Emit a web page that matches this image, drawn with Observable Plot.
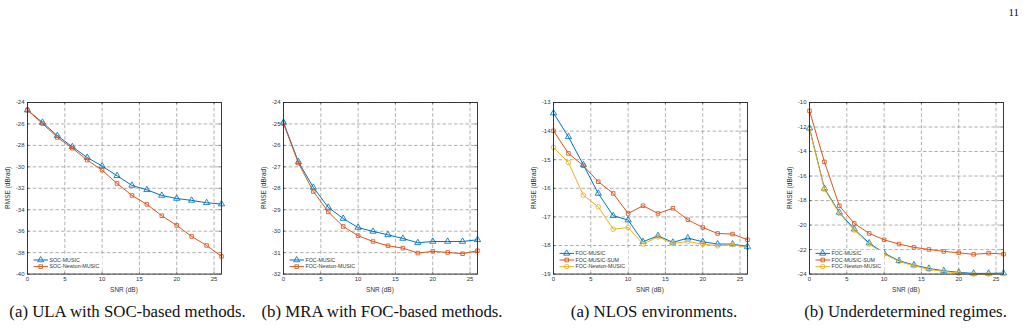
<!DOCTYPE html>
<html>
<head>
<meta charset="utf-8">
<script src="https://cdn.jsdelivr.net/npm/d3@7"></script>
<script src="https://cdn.jsdelivr.net/npm/@observablehq/plot@0.6"></script>
<style>
  html, body { margin: 0; padding: 0; background: #fff; }
  body { width: 1028px; height: 328px; position: relative; overflow: hidden; }
  .panel { position: absolute; }
  #overlay { position: absolute; left: 0; top: 0; pointer-events: none; }
</style>
</head>
<body>
<svg id="overlay" width="1028" height="328"></svg>
<script>
// SNR sweep shared by every panel (dB)
const snr = [0, 2, 4, 6, 8, 10, 12, 14, 16, 18, 20, 22, 24, 26];
const xTicks = [0, 5, 10, 15, 20, 25];

// (a) ULA, second-order cumulant methods
const ulaSocMusic =       [-24.71, -25.86, -27.10, -28.13, -29.13, -29.93, -30.83, -31.73, -32.14, -32.67, -32.95, -33.13, -33.35, -33.47];
const ulaSocNewtonMusic = [-24.71, -25.96, -27.26, -28.26, -29.37, -30.31, -31.55, -32.67, -33.50, -34.56, -35.46, -36.49, -37.33, -38.35];
const ulaTicks = [-24, -26, -28, -30, -32, -34, -36, -38, -40];

// (b) MRA, fourth-order cumulant methods
const mraFocMusic =       [-24.93, -26.77, -27.96, -28.89, -29.41, -29.83, -30.01, -30.17, -30.34, -30.54, -30.48, -30.48, -30.48, -30.40];
const mraFocNewtonMusic = [-24.98, -26.83, -28.15, -29.10, -29.78, -30.21, -30.48, -30.68, -30.79, -31.02, -30.94, -30.99, -31.05, -30.91];
const mraTicks = [-24, -25, -26, -27, -28, -29, -30, -31, -32];

// (a) NLOS environments
const nlosFocMusic =       [-13.37, -14.20, -15.18, -16.18, -16.96, -17.11, -17.87, -17.66, -17.89, -17.74, -17.87, -17.95, -17.95, -18.04];
const nlosFocMusicSum =    [-13.99, -14.78, -15.21, -15.77, -16.18, -16.88, -16.61, -16.88, -16.70, -17.10, -17.37, -17.58, -17.60, -17.80];
const nlosFocNewtonMusic = [-14.57, -15.10, -16.24, -16.65, -17.43, -17.37, -17.95, -17.70, -17.93, -17.86, -17.95, -18.01, -17.97, -18.07];
const nlosTicks = [-13, -14, -15, -16, -17, -18, -19];

// (b) Underdetermined regimes
const udFocMusic =       [-12.09, -17.01, -18.97, -20.33, -21.47, -22.29, -22.91, -23.26, -23.54, -23.73, -23.86, -23.94, -23.94, -23.92];
const udFocMusicSum =    [-10.68, -14.84, -18.43, -19.87, -20.68, -21.20, -21.55, -21.82, -21.99, -22.15, -22.26, -22.39, -22.29, -22.37];
const udFocNewtonMusic = [-12.17, -17.09, -19.05, -20.41, -21.55, -22.37, -22.97, -23.32, -23.62, -23.78, -23.92, -24.00, -24.00, -23.97];
const udTicks = [-10, -12, -14, -16, -18, -20, -22, -24];

const captions = [
  "(a) ULA with SOC-based methods.",
  "(b) MRA with FOC-based methods.",
  "(a) NLOS environments.",
  "(b) Underdetermined regimes."
];

const BLUE = "#0072BD", RED = "#D95319", YELLOW = "#EDB120";
const SANS = "'Liberation Sans', Arial, Helvetica, sans-serif";
const SERIF = "'Liberation Serif', 'Times New Roman', serif";

const panels = [
  { left: 26.7, top: 101.7, yTicks: ulaTicks, caption: captions[0], capX: 127.5,
    series: [
      { name: "SOC-MUSIC", values: ulaSocMusic, color: BLUE, symbol: "triangle" },
      { name: "SOC-Newton-MUSIC", values: ulaSocNewtonMusic, color: RED, symbol: "square" }
    ] },
  { left: 283.3, top: 101.7, yTicks: mraTicks, caption: captions[1], capX: 382,
    series: [
      { name: "FOC-MUSIC", values: mraFocMusic, color: BLUE, symbol: "triangle" },
      { name: "FOC-Newton-MUSIC", values: mraFocNewtonMusic, color: RED, symbol: "square" }
    ] },
  { left: 553.3, top: 101.7, yTicks: nlosTicks, caption: captions[2], capX: 654,
    series: [
      { name: "FOC-MUSIC", values: nlosFocMusic, color: BLUE, symbol: "triangle" },
      { name: "FOC-MUSIC-SUM", values: nlosFocMusicSum, color: RED, symbol: "square" },
      { name: "FOC-Newton-MUSIC", values: nlosFocNewtonMusic, color: YELLOW, symbol: "circle" }
    ] },
  { left: 809.3, top: 101.7, yTicks: udTicks, caption: captions[3], capX: 905.5,
    series: [
      { name: "FOC-MUSIC", values: udFocMusic, color: BLUE, symbol: "triangle" },
      { name: "FOC-MUSIC-SUM", values: udFocMusicSum, color: RED, symbol: "square" },
      { name: "FOC-Newton-MUSIC", values: udFocNewtonMusic, color: YELLOW, symbol: "circle" }
    ] }
];

// frame size and margins of every axes box
const FW = 194, FH = 171.6;
const M = { left: 32, right: 4, top: 6, bottom: 24 };

const symbolPath = {
  triangle: d3.symbol(d3.symbolTriangle, 16),
  square: d3.symbol(d3.symbolSquare, 13),
  circle: d3.symbol(d3.symbolCircle, 16)
};

const GRID = { stroke: "#8e8e8e", strokeOpacity: 1, strokeWidth: 0.7, strokeDasharray: "3.5,2.2" };

function drawPanel(p) {
  const yMin = d3.min(p.yTicks), yMax = d3.max(p.yTicks);
  const tickLenY = (yMax - yMin) * 0.012;
  const tickLenX = 26 * 0.012;

  const marks = [
    // dashed grid
    Plot.ruleX(xTicks, { x: d => d, ...GRID }),
    Plot.ruleY(p.yTicks, { y: d => d, ...GRID }),
    // inward tick marks on all four sides
    Plot.ruleX(xTicks, { x: d => d, y1: yMin, y2: yMin + tickLenY, stroke: "#333", strokeWidth: 0.6 }),
    Plot.ruleX(xTicks, { x: d => d, y1: yMax, y2: yMax - tickLenY, stroke: "#333", strokeWidth: 0.6 }),
    Plot.ruleY(p.yTicks, { y: d => d, x1: 0, x2: tickLenX, stroke: "#333", strokeWidth: 0.6 }),
    Plot.ruleY(p.yTicks, { y: d => d, x1: 26, x2: 26 - tickLenX, stroke: "#333", strokeWidth: 0.6 })
  ];

  for (const s of p.series) {
    const rows = snr.map((x, i) => ({ x, y: s.values[i] }));
    marks.push(Plot.line(rows, { x: "x", y: "y", stroke: s.color, strokeWidth: 1 }));
    marks.push(Plot.dot(rows, { x: "x", y: "y", stroke: s.color, strokeWidth: 0.85, fill: "none",
      symbol: s.symbol, r: s.symbol === "square" ? 2 : 2.3 }));
  }

  marks.push(Plot.frame({ stroke: "#262626", strokeWidth: 0.9 }));
  marks.push(Plot.axisX(xTicks, { tickSize: 0, tickPadding: 3, fontSize: 6, label: null,
    tickFormat: d => String(d), fill: "#333" }));
  marks.push(Plot.axisY(p.yTicks, { tickSize: 0, tickPadding: 3, fontSize: 6, label: null,
    tickFormat: d => String(d), fill: "#333" }));

  const chart = Plot.plot({
    width: M.left + FW + M.right,
    height: M.top + FH + M.bottom,
    marginLeft: M.left, marginRight: M.right, marginTop: M.top, marginBottom: M.bottom,
    style: { fontFamily: SANS, background: "transparent", overflow: "visible" },
    x: { domain: [0, 26] },
    y: { domain: [yMin, yMax] },
    marks
  });

  const wrap = document.createElement("div");
  wrap.className = "panel";
  wrap.style.left = (p.left - M.left) + "px";
  wrap.style.top = (p.top - M.top) + "px";
  wrap.appendChild(chart);
  document.body.insertBefore(wrap, document.getElementById("overlay"));

  const svg = d3.select(chart);
  const fx = M.left, fy = M.top;

  // axis titles
  svg.append("text")
    .attr("transform", `translate(${fx - 19},${fy + FH / 2}) rotate(-90)`)
    .attr("text-anchor", "middle").attr("dy", "0.35em")
    .attr("font-size", 6.5).attr("font-family", SANS).attr("fill", "#333")
    .text("RMSE (dBrad)");
  svg.append("text")
    .attr("x", fx + FW / 2).attr("y", fy + FH + 18.5)
    .attr("text-anchor", "middle")
    .attr("font-size", 6.5).attr("font-family", SANS).attr("fill", "#333")
    .text("SNR (dB)");

  // legend, bottom-left inside the axes
  const n = p.series.length;
  const rowY = i => fy + FH - 7 - 6.6 * (n - 1 - i);
  const lg = svg.append("g").attr("text-anchor", "start");
  const bg = lg.append("rect").attr("fill", "#fff");
  const texts = [];
  p.series.forEach((s, i) => {
    const y = rowY(i);
    lg.append("line").attr("x1", fx + 6.5).attr("x2", fx + 21).attr("y1", y).attr("y2", y)
      .attr("stroke", s.color).attr("stroke-width", 1);
    lg.append("path").attr("d", symbolPath[s.symbol]()).attr("transform", `translate(${fx + 13.7},${y})`)
      .attr("fill", "none").attr("stroke", s.color).attr("stroke-width", 0.85);
    texts.push(lg.append("text").attr("x", fx + 22.5).attr("y", y).attr("dy", "0.35em")
      .attr("text-anchor", "start")
      .attr("font-size", 5.3).attr("font-family", SANS).attr("fill", "#333").text(s.name));
  });
  const maxW = d3.max(texts, t => t.node().getComputedTextLength());
  bg.attr("x", fx + 3).attr("y", rowY(0) - 3.6)
    .attr("width", 22.5 - 3 + maxW + 3).attr("height", 6.6 * (n - 1) + 7.2);

  // subfigure caption
  d3.select("#overlay").append("text")
    .attr("x", p.capX).attr("y", 316.5).attr("text-anchor", "middle")
    .attr("font-family", SERIF).attr("font-size", 16.8).attr("fill", "#111")
    .text(p.caption);
}

panels.forEach(drawPanel);

// page number
d3.select("#overlay").append("text")
  .attr("x", 1019).attr("y", 16).attr("text-anchor", "end")
  .attr("font-family", SERIF).attr("font-size", 11).attr("fill", "#111")
  .text("11");
</script>
</body>
</html>
